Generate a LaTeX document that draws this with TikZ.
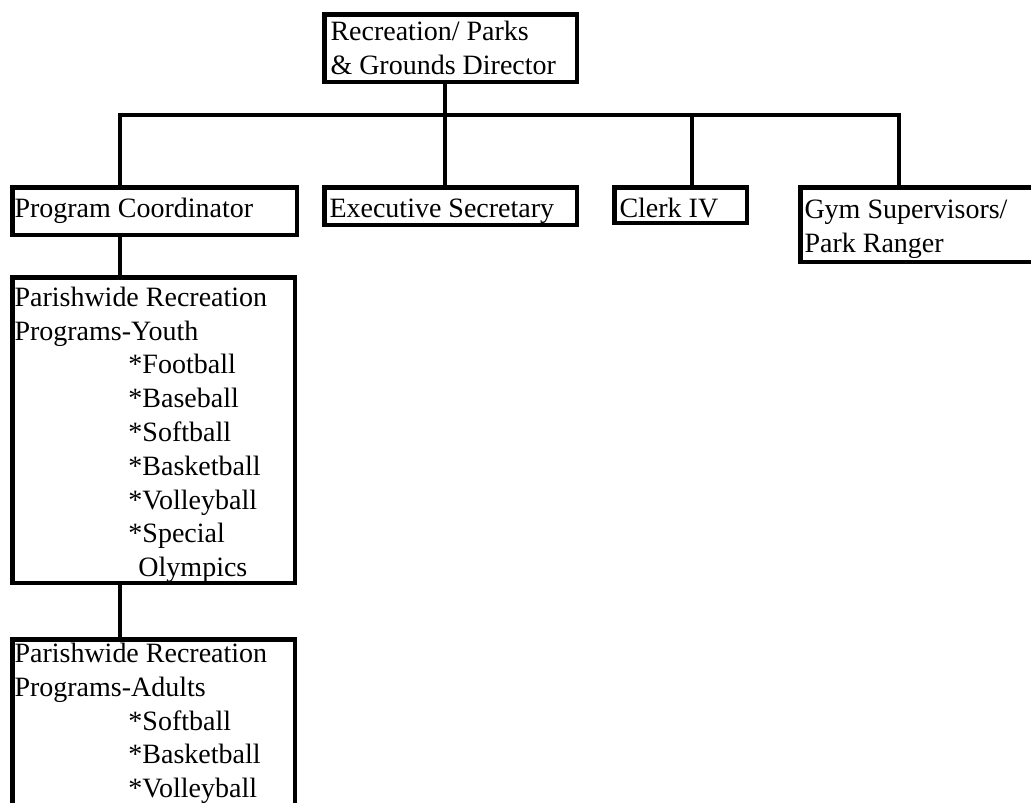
\documentclass[tikz,border=0pt]{standalone}
\usepackage{fontspec}
\setmainfont{Liberation Serif}
% Fixed-size text block for a box: width, height, first baseline drop, left pad, lines
\newcommand\boxtext[5]{\parbox[t][#2][t]{#1}{\raggedright\leftskip=#4\relax\rule{0pt}{#3}#5}}
% Indent for the sport entries
\newcommand\ind{\hspace*{114pt}}
\begin{document}
\begin{tikzpicture}[x=1pt,y=-1pt,
  orgbox/.style={draw, line width=4.5pt, inner sep=0pt, anchor=north west,
                 font=\fontsize{28pt}{33.8pt}\selectfont},
  link/.style={line width=3.5pt, line join=miter}]
\useasboundingbox (0,0) rectangle (1031,803);
\fill[white] (0,0) rectangle (1031,803);
\clip (0,0) rectangle (1031,803);

% Boxes
\node[orgbox] (dir) at (322.25,12.25)
  {\boxtext{252.5pt}{67.5pt}{25.75pt}{6pt}{Recreation/ Parks\\\& Grounds Director}};
\node[orgbox] (pc) at (10.25,185.25)
  {\boxtext{284.5pt}{47.5pt}{29.75pt}{2pt}{Program Coordinator}};
\node[orgbox] (exec) at (322.25,185.25)
  {\boxtext{252.5pt}{37.5pt}{29.75pt}{5pt}{Executive Secretary}};
\node[orgbox] (clerk) at (612.25,185.25)
  {\boxtext{132.5pt}{35.5pt}{29.75pt}{5pt}{Clerk IV}};
\node[orgbox] (gym) at (798.25,185.25)
  {\boxtext{244.5pt}{74.5pt}{30.75pt}{4pt}{Gym Supervisors/\\Park Ranger}};
\node[orgbox] (youth) at (10.25,275.25)
  {\boxtext{282.5pt}{305.5pt}{28.75pt}{2pt}{Parishwide Recreation\\Programs-Youth\\\ind *Football\\\ind *Baseball\\\ind *Softball\\\ind *Basketball\\\ind *Volleyball\\\ind *Special\\\ind\hspace*{10pt}Olympics}};
\node[orgbox] (adult) at (10.25,637.25)
  {\boxtext{282.5pt}{200.5pt}{23pt}{2pt}{Parishwide Recreation\\Programs-Adults\\\ind *Softball\\\ind *Basketball\\\ind *Volleyball}};

% Junctions on the horizontal bus
\coordinate (bus) at (445,115);
\coordinate (jpc) at (120,115);
\coordinate (jcl) at (692,115);
\coordinate (jgym) at (899,115);

% Connectors
\draw[link] (dir.south -| bus) -- (bus);
\draw[link] (jpc |- pc.north) -- (jpc) -- (jgym) -- (jgym |- gym.north);
\draw[link] (bus) -- (bus |- exec.north);
\draw[link] (jcl) -- (jcl |- clerk.north);
\draw[link] (jpc |- pc.south) -- (jpc |- youth.north);
\draw[link] (jpc |- youth.south) -- (jpc |- adult.north);
\end{tikzpicture}
\end{document}
